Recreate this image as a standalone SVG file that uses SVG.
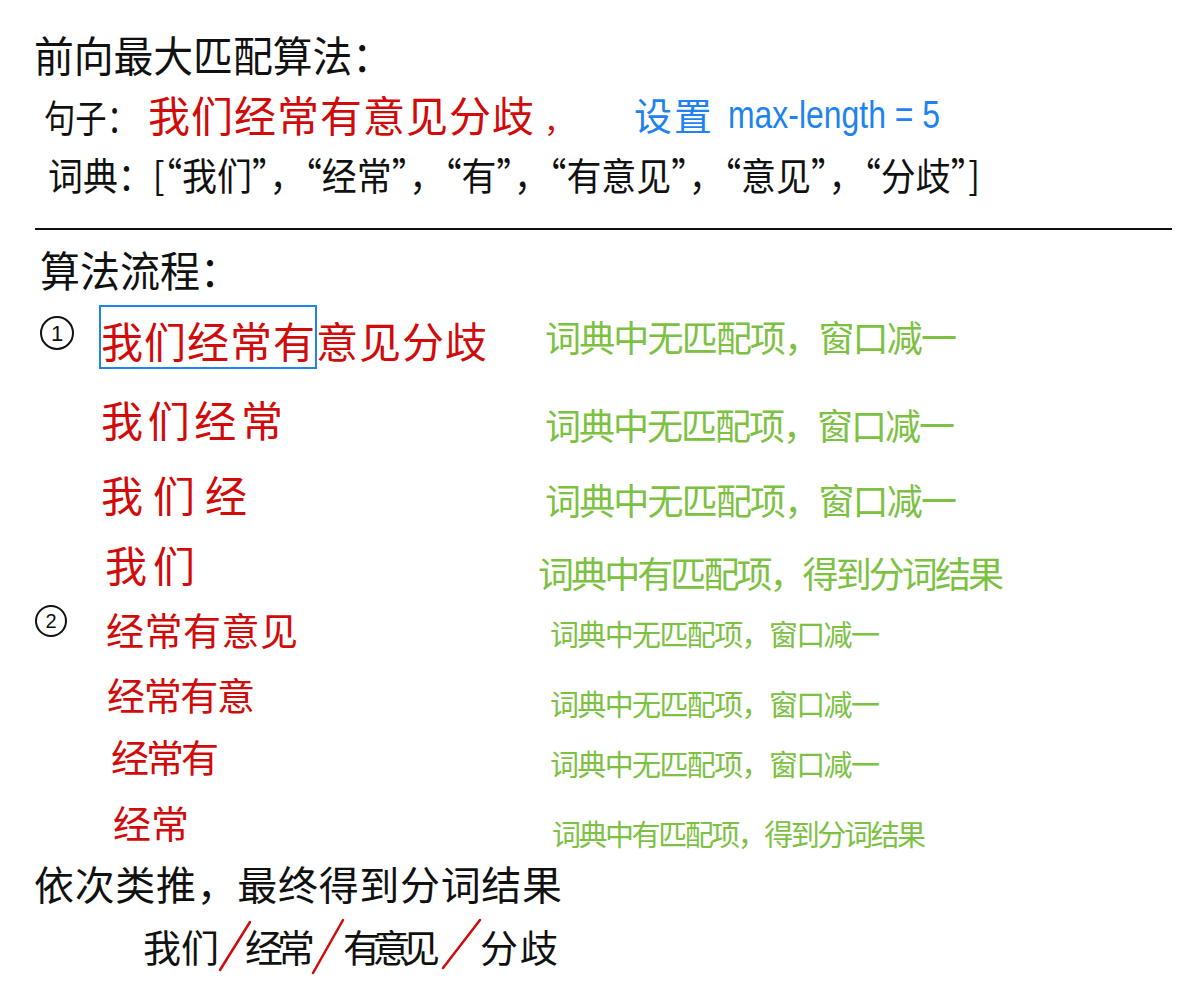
<svg xmlns="http://www.w3.org/2000/svg" width="1197" height="1000" viewBox="0 0 1197 1000">
<style>
text{font-family:"Noto Sans CJK SC","Noto Sans",sans-serif;}
.k{fill:#111111;}
.r{fill:#D10A0A;}
.g{fill:#7CC142;}
.b{fill:#1E82F0;}
.lat{font-family:"Liberation Sans","Noto Sans",sans-serif;}
</style>
<rect width="1197" height="1000" fill="#ffffff"/>
<g id="header">
<text class="k" x="34" y="72" font-size="42" textLength="358" lengthAdjust="spacingAndGlyphs">前向最大匹配算法：</text>
<text class="k" x="44" y="132" font-size="38" textLength="94" lengthAdjust="spacingAndGlyphs">句子：</text>
<text class="r" x="148" y="132" font-size="42" textLength="386" lengthAdjust="spacing">我们经常有意见分歧</text>
<text class="r" x="544" y="132" font-size="30">，</text>
<text class="b" x="634" y="130" font-size="38" textLength="78" lengthAdjust="spacing">设置</text>
<text class="b lat" x="728" y="128" font-size="38" textLength="212" lengthAdjust="spacingAndGlyphs">max-length = 5</text>
<text class="k" x="48" y="190" font-size="38" textLength="932" lengthAdjust="spacingAndGlyphs">词典：[“我们”，“经常”，“有”，“有意见”，“意见”，“分歧”]</text>
</g>
<line x1="35" y1="229" x2="1172" y2="229" stroke="#111111" stroke-width="2"/>
<g id="flow">
<text class="k" x="40" y="287" font-size="42" textLength="200" lengthAdjust="spacingAndGlyphs">算法流程：</text>
<g id="step1">
<circle cx="57" cy="333" r="16" fill="none" stroke="#111111" stroke-width="2"/>
<text class="k lat" x="57" y="341" font-size="22" text-anchor="middle">1</text>
<text class="r" x="101" y="358" font-size="42" textLength="386" lengthAdjust="spacing">我们经常有意见分歧</text>
<rect x="100" y="306" width="216" height="62" fill="none" stroke="#1E82F0" stroke-width="2"/>
<text class="g" x="545" y="352" font-size="36" textLength="412" lengthAdjust="spacing">词典中无匹配项，窗口减一</text>
<text class="r" x="101" y="437" font-size="42" textLength="182" lengthAdjust="spacing">我们经常</text>
<text class="g" x="545" y="440" font-size="36" textLength="410" lengthAdjust="spacing">词典中无匹配项，窗口减一</text>
<text class="r" x="101" y="512" font-size="42" textLength="146" lengthAdjust="spacing">我们经</text>
<text class="g" x="545" y="515" font-size="36" textLength="412" lengthAdjust="spacing">词典中无匹配项，窗口减一</text>
<text class="r" x="105" y="582" font-size="42" textLength="90" lengthAdjust="spacing">我们</text>
<text class="g" x="538" y="588" font-size="36" textLength="466" lengthAdjust="spacing">词典中有匹配项，得到分词结果</text>
</g>
<g id="step2">
<circle cx="51" cy="621" r="15" fill="none" stroke="#111111" stroke-width="2"/>
<text class="k lat" x="51" y="628" font-size="20" text-anchor="middle">2</text>
<text class="r" x="106" y="645" font-size="38" textLength="192" lengthAdjust="spacing">经常有意见</text>
<text class="g" x="550" y="646" font-size="29" textLength="330" lengthAdjust="spacing">词典中无匹配项，窗口减一</text>
<text class="r" x="107" y="710" font-size="38" textLength="148" lengthAdjust="spacing">经常有意</text>
<text class="g" x="550" y="716" font-size="29" textLength="330" lengthAdjust="spacing">词典中无匹配项，窗口减一</text>
<text class="r" x="111" y="772" font-size="38" textLength="108" lengthAdjust="spacing">经常有</text>
<text class="g" x="550" y="776" font-size="29" textLength="330" lengthAdjust="spacing">词典中无匹配项，窗口减一</text>
<text class="r" x="113" y="838" font-size="38" textLength="76" lengthAdjust="spacing">经常</text>
<text class="g" x="552" y="846" font-size="29" textLength="374" lengthAdjust="spacing">词典中有匹配项，得到分词结果</text>
</g>
</g>
<g id="result">
<text class="k" x="34" y="900" font-size="40" textLength="528" lengthAdjust="spacing">依次类推，最终得到分词结果</text>
<text class="k" x="143" y="962" font-size="38" textLength="76" lengthAdjust="spacing">我们</text>
<text class="k" x="245" y="962" font-size="38" textLength="70" lengthAdjust="spacing">经常</text>
<text class="k" x="343" y="962" font-size="38" textLength="97" lengthAdjust="spacing">有意见</text>
<text class="k" x="480" y="962" font-size="38" textLength="78" lengthAdjust="spacing">分歧</text>
<g stroke="#D10A0A" stroke-width="2.5" stroke-linecap="round">
<line x1="220" y1="970" x2="250" y2="922"/>
<line x1="313" y1="973" x2="343" y2="920"/>
<line x1="443" y1="968" x2="480" y2="920"/>
</g>
</g>
</svg>
